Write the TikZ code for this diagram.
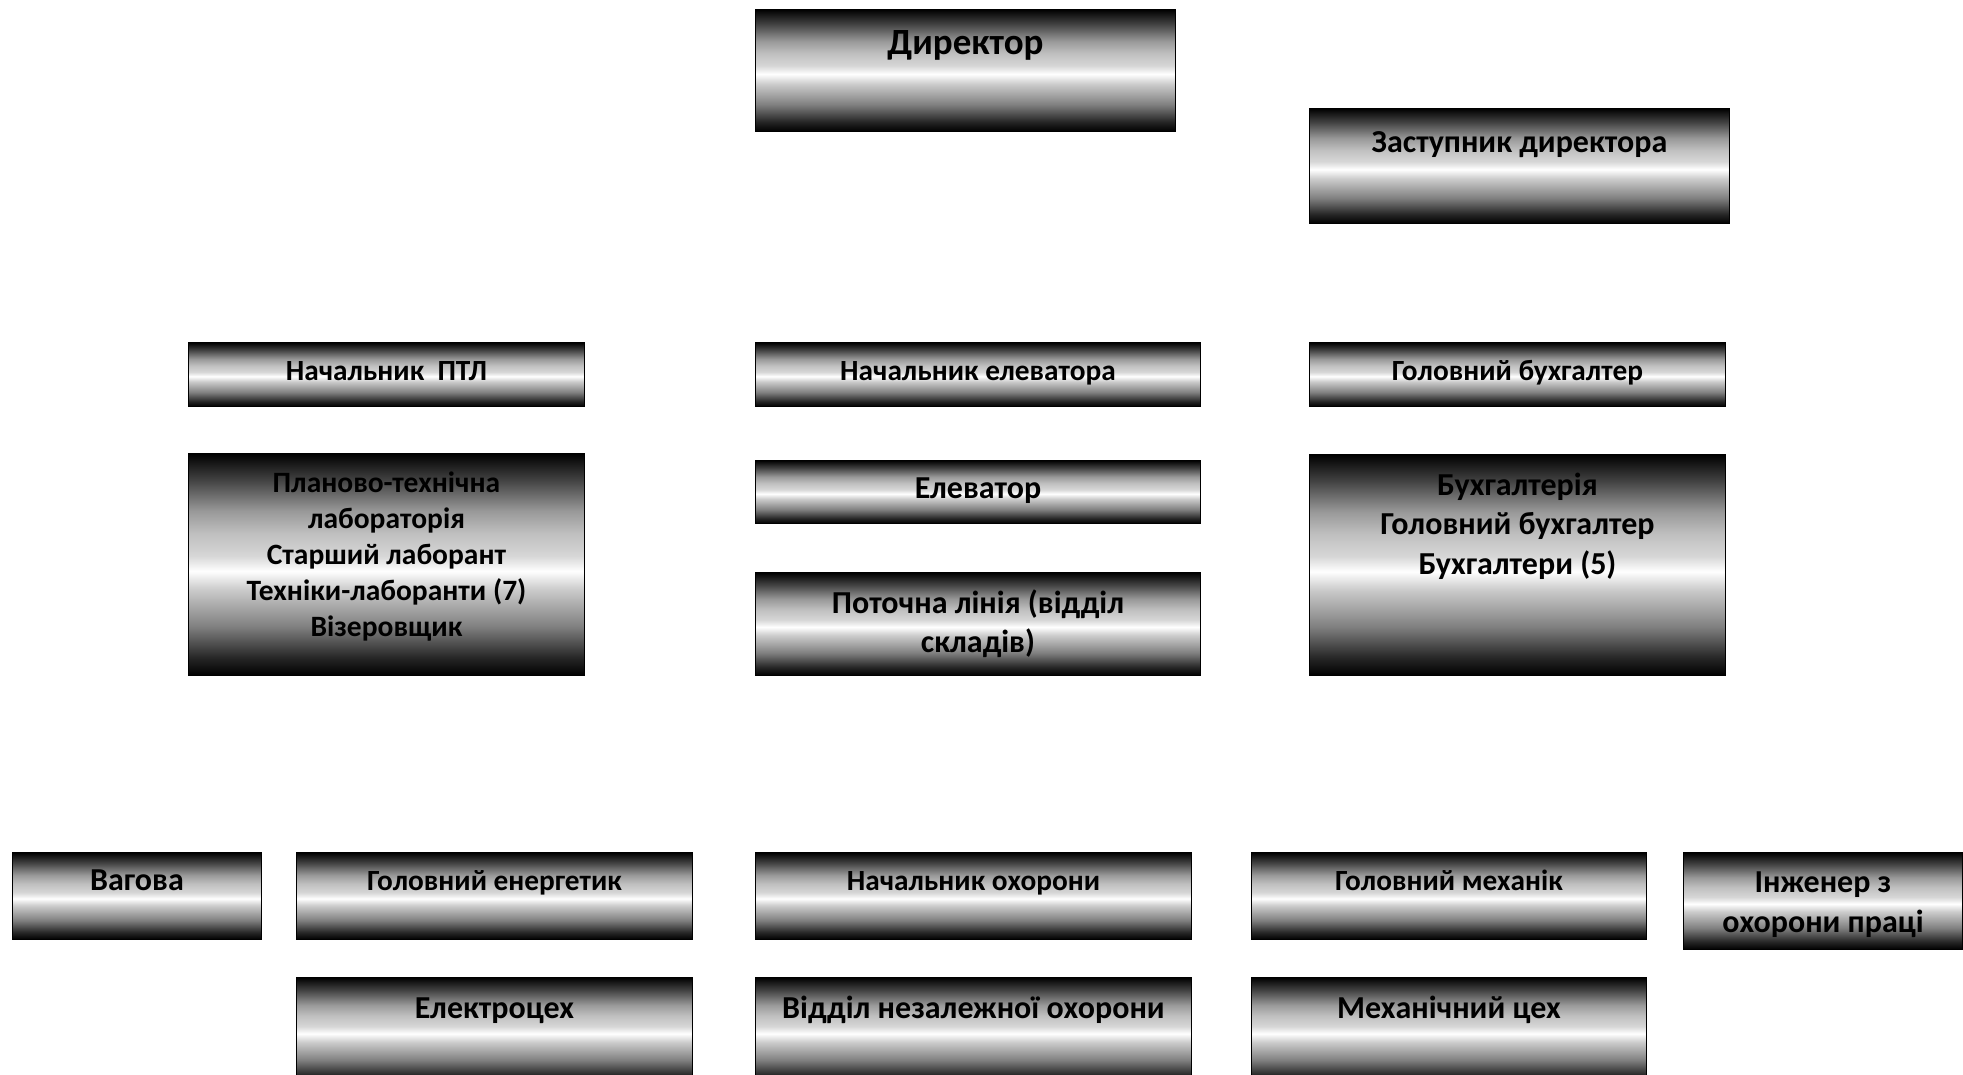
\documentclass[tikz,border=0pt]{standalone}
\usepackage{fontspec}
\setmainfont{Carlito}
\newcommand\fsz[2]{\fontsize{#1pt}{#2pt}\selectfont}
\newcommand\tstrut{\rule{0pt}{0.85em}}
\pgfdeclareverticalshading{chrome}{100bp}{color(0bp)=(black); color(25bp)=(black); color(29bp)=(black!85); color(36bp)=(black!50); color(44.5bp)=(black!20); color(48.5bp)=(white); color(50bp)=(black!7); color(52bp)=(black!16); color(57bp)=(black!25); color(62bp)=(black!40); color(69bp)=(black!74); color(75bp)=(black); color(100bp)=(black)}
\tikzset{
  box/.style={draw=black, line width=0.9pt, shade, shading=chrome, rectangle, inner sep=0pt, anchor=north west},
  lbl/.style={anchor=north, inner sep=0pt, align=center, text=black}
}
\begin{document}
\begin{tikzpicture}[x=1pt,y=-1pt]
\useasboundingbox (0,0) rectangle (1963,1074);
\fill[white] (0,0) rectangle (1963,1074);
\clip (0,0) rectangle (1963,1074);
% boxes
\node[box, minimum width=420pt, minimum height=122pt] (b1) at (755,9) {};
\node[box, minimum width=420pt, minimum height=115pt] (b2) at (1309,108) {};
\node[box, minimum width=396pt, minimum height=64pt] (b3) at (188,342) {};
\node[box, minimum width=445pt, minimum height=64pt] (b4) at (755,342) {};
\node[box, minimum width=416pt, minimum height=64pt] (b5) at (1309,342) {};
\node[box, minimum width=396pt, minimum height=222pt] (b6) at (188,453) {};
\node[box, minimum width=445pt, minimum height=63pt] (b7) at (755,460) {};
\node[box, minimum width=445pt, minimum height=103pt] (b8) at (755,572) {};
\node[box, minimum width=416pt, minimum height=221pt] (b9) at (1309,454) {};
\node[box, minimum width=249pt, minimum height=87pt] (b10) at (12,852) {};
\node[box, minimum width=396pt, minimum height=87pt] (b11) at (296,852) {};
\node[box, minimum width=436pt, minimum height=87pt] (b12) at (755,852) {};
\node[box, minimum width=395pt, minimum height=87pt] (b13) at (1251,852) {};
\node[box, minimum width=279pt, minimum height=97pt] (b14) at (1683,852) {};
\node[box, minimum width=396pt, minimum height=106pt] (b15) at (296,977) {};
\node[box, minimum width=436pt, minimum height=106pt] (b16) at (755,977) {};
\node[box, minimum width=395pt, minimum height=106pt] (b17) at (1251,977) {};
% labels
\node[lbl, font=\bfseries\fsz{37}{44}] (t1) at ([yshift=-13.55pt]b1.north) {\tstrut Директор};
\node[lbl, font=\bfseries\fsz{32}{39}] (t2) at ([yshift=-16.8pt]b2.north) {\tstrut Заступник директора};
\node[lbl, font=\bfseries\fsz{29.3}{36}] (t3) at ([yshift=-13.1pt]b3.north) {\tstrut Начальник\ \ ПТЛ};
\node[lbl, font=\bfseries\fsz{29.3}{36}] (t4) at ([yshift=-13.1pt]b4.north) {\tstrut Начальник елеватора};
\node[lbl, font=\bfseries\fsz{29.3}{36}] (t5) at ([yshift=-13.1pt]b5.north) {\tstrut Головний бухгалтер};
\node[lbl, font=\bfseries\fsz{29.5}{36}] (t6) at ([yshift=-13.9pt]b6.north) {\tstrut Планово-технічна\\лабораторія\\Старший лаборант\\Техніки-лаборанти (7)\\Візеровщик};
\node[lbl, font=\bfseries\fsz{32}{39}] (t7) at ([yshift=-10.8pt]b7.north) {\tstrut Елеватор};
\node[lbl, font=\bfseries\fsz{32}{39}] (t8) at ([yshift=-13.8pt]b8.north) {\tstrut Поточна лінія (відділ\\складів)};
\node[lbl, font=\bfseries\fsz{32}{39.4}] (t9) at ([yshift=-13.8pt]b9.north) {\tstrut Бухгалтерія\\Головний бухгалтер\\Бухгалтери (5)};
\node[lbl, font=\bfseries\fsz{32}{39}] (t10) at ([yshift=-10.8pt]b10.north) {\tstrut Вагова};
\node[lbl, font=\bfseries\fsz{29.3}{36}] (t11) at ([yshift=-13.1pt]b11.north) {\tstrut Головний енергетик};
\node[lbl, font=\bfseries\fsz{29.3}{36}] (t12) at ([yshift=-13.1pt]b12.north) {\tstrut Начальник охорони};
\node[lbl, font=\bfseries\fsz{29.3}{36}] (t13) at ([yshift=-13.1pt]b13.north) {\tstrut Головний механік};
\node[lbl, font=\bfseries\fsz{32}{40}] (t14) at ([yshift=-12.8pt]b14.north) {\tstrut Інженер з\\охорони праці};
\node[lbl, font=\bfseries\fsz{32}{39}] (t15) at ([yshift=-13.8pt]b15.north) {\tstrut Електроцех};
\node[lbl, font=\bfseries\fsz{32}{39}] (t16) at ([yshift=-13.8pt]b16.north) {\tstrut Відділ незалежної охорони};
\node[lbl, font=\bfseries\fsz{32}{39}] (t17) at ([yshift=-13.8pt]b17.north) {\tstrut Механічний цех};
\end{tikzpicture}
\end{document}
